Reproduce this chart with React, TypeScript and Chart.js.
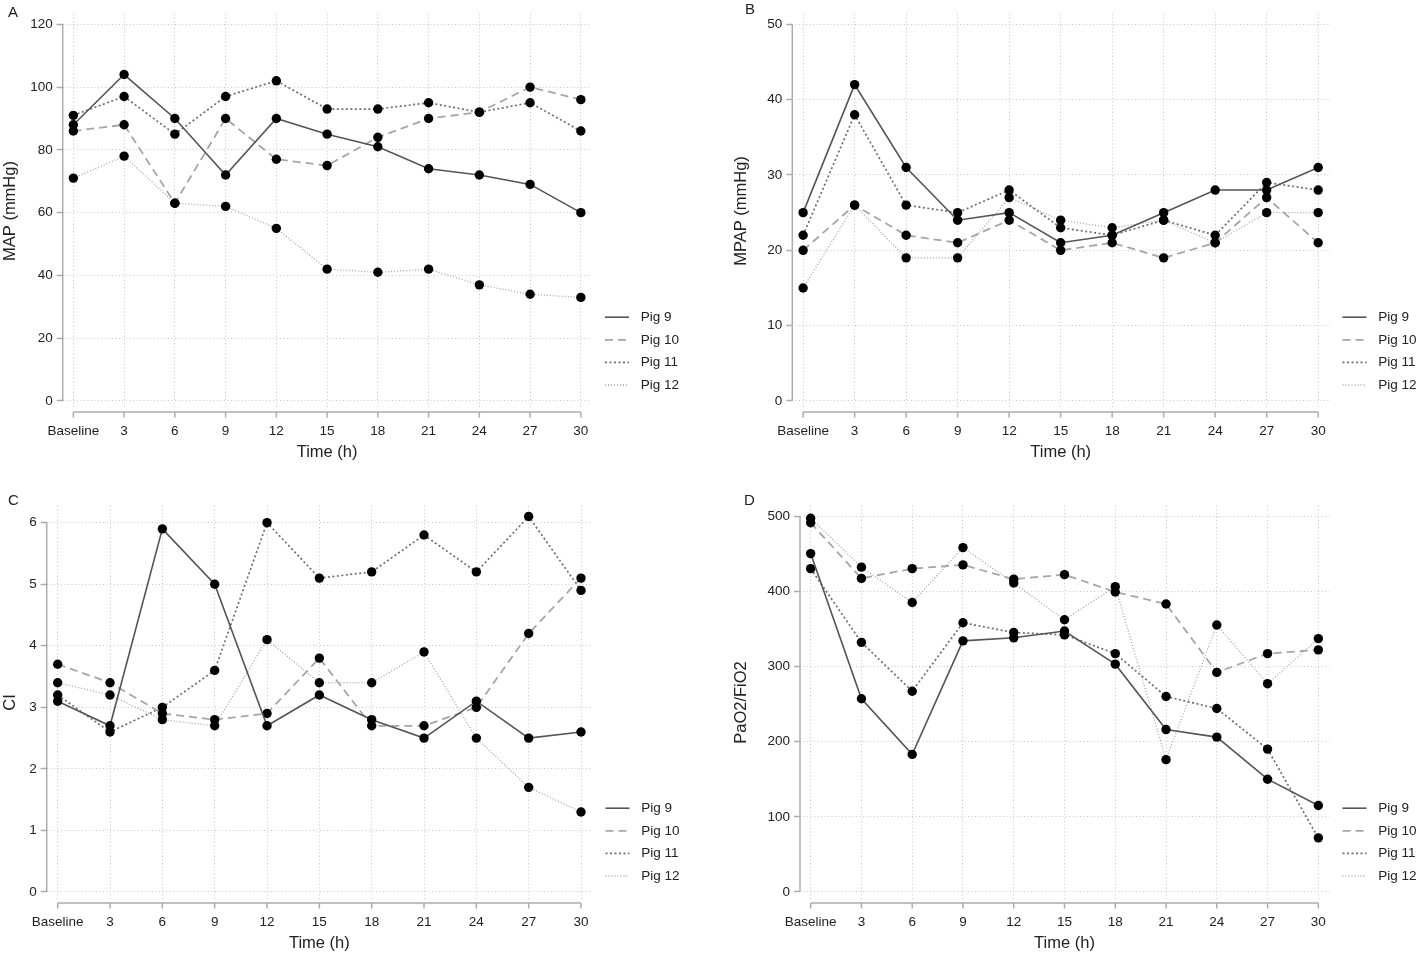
import React, { useEffect, useRef } from "react";
import { Chart, registerables } from "chart.js";

Chart.register(...registerables);

// ---------- data ----------
const timeLabels = ["Baseline", "3", "6", "9", "12", "15", "18", "21", "24", "27", "30"];
const pigNames = ["Pig 9", "Pig 10", "Pig 11", "Pig 12"];

const mapPig9 = [88, 104, 90, 72, 90, 85, 81, 74, 72, 69, 60];
const mapPig10 = [86, 88, 63, 90, 77, 75, 84, 90, 92, 100, 96];
const mapPig11 = [91, 97, 85, 97, 102, 93, 93, 95, 92, 95, 86];
const mapPig12 = [71, 78, 63, 62, 55, 42, 41, 42, 37, 34, 33];

const mpapPig9 = [25, 42, 31, 24, 25, 21, 22, 25, 28, 28, 31];
const mpapPig10 = [20, 26, 22, 21, 24, 20, 21, 19, 21, 27, 21];
const mpapPig11 = [22, 38, 26, 25, 28, 23, 22, 24, 22, 29, 28];
const mpapPig12 = [15, 26, 19, 19, 27, 24, 23, 24, 21, 25, 25];

const ciPig9 = [3.1, 2.7, 5.9, 5.0, 2.7, 3.2, 2.8, 2.5, 3.1, 2.5, 2.6];
const ciPig10 = [3.7, 3.4, 2.9, 2.8, 2.9, 3.8, 2.7, 2.7, 3.0, 4.2, 5.1];
const ciPig11 = [3.2, 2.6, 3.0, 3.6, 6.0, 5.1, 5.2, 5.8, 5.2, 6.1, 4.9];
const ciPig12 = [3.4, 3.2, 2.8, 2.7, 4.1, 3.4, 3.4, 3.9, 2.5, 1.7, 1.3];

const pfPig9 = [450, 257, 183, 334, 338, 347, 303, 216, 206, 150, 115];
const pfPig10 = [491, 417, 430, 435, 416, 422, 399, 383, 292, 317, 322];
const pfPig11 = [430, 332, 267, 358, 345, 342, 317, 260, 244, 190, 72];
const pfPig12 = [497, 432, 385, 458, 411, 362, 406, 176, 355, 277, 337];

const mapTicks = [0, 20, 40, 60, 80, 100, 120];
const mpapTicks = [0, 10, 20, 30, 40, 50];
const ciTicks = [0, 1, 2, 3, 4, 5, 6];
const pfTicks = [0, 100, 200, 300, 400, 500];

// ---------- styles ----------
const FONT = '"Liberation Sans", Arial, Helvetica, sans-serif';
const TEXT = "#222222";
const GRID = "#c8c8c8";
const AXIS = "#acacac";

const pigStyles = [
  { color: "#555555", width: 1.6, dash: [] as number[] },
  { color: "#a6a6a6", width: 1.8, dash: [8, 5] },
  { color: "#6e6e6e", width: 1.7, dash: [2, 2.5] },
  { color: "#a4a4a4", width: 1.3, dash: [1, 2] },
];

Chart.defaults.font.family = FONT;
Chart.defaults.color = TEXT;

type PanelCfg = {
  letter: string;
  left: number;
  top: number;
  w: number;
  h: number;
  area: { left: number; right: number; top: number; bottom: number };
  padL: number;
  yTitle: string;
  yMin: number;
  yMax: number;
  ticks: number[];
  series: number[][];
  letterPos: { x: number; y: number };
};

const panels: PanelCfg[] = [
  {
    letter: "A",
    left: 0, top: 0, w: 708, h: 477,
    area: { left: 62.7, right: 591.5, top: 14, bottom: 408 },
    padL: 0,
    yTitle: "MAP (mmHg)",
    yMin: -2.23, yMax: 123.28,
    ticks: mapTicks,
    series: [mapPig9, mapPig10, mapPig11, mapPig12],
    letterPos: { x: 8, y: 12 },
  },
  {
    letter: "B",
    left: 708, top: 0, w: 708, h: 477,
    area: { left: 84.3, right: 621, top: 14, bottom: 408 },
    padL: 23,
    yTitle: "MPAP (mmHg)",
    yMin: -0.93, yMax: 51.37,
    ticks: mpapTicks,
    series: [mpapPig9, mpapPig10, mpapPig11, mpapPig12],
    letterPos: { x: 745, y: 9 },
  },
  {
    letter: "C",
    left: 0, top: 477, w: 708, h: 477,
    area: { left: 46.7, right: 592, top: 29, bottom: 422 },
    padL: 0,
    yTitle: "CI",
    yMin: -0.114, yMax: 6.271,
    ticks: ciTicks,
    series: [ciPig9, ciPig10, ciPig11, ciPig12],
    letterPos: { x: 8, y: 500 },
  },
  {
    letter: "D",
    left: 708, top: 477, w: 708, h: 477,
    area: { left: 92, right: 621, top: 29, bottom: 422 },
    padL: 23,
    yTitle: "PaO2/FiO2",
    yMin: -9.31, yMax: 513.3,
    ticks: pfTicks,
    series: [pfPig9, pfPig10, pfPig11, pfPig12],
    letterPos: { x: 744, y: 500 },
  },
];

// R-style axis lines + legend
const rStylePlugin = {
  id: "rStyle",
  afterDraw(chart: any) {
    const { ctx, chartArea } = chart;
    const xs = chart.scales.x;
    const ys = chart.scales.y;
    ctx.save();
    ctx.strokeStyle = AXIS;
    ctx.lineWidth = 1.5;
    ctx.setLineDash([]);
    const yBot = ys.getPixelForValue(ys.ticks[0].value);
    const yTop = ys.getPixelForValue(ys.ticks[ys.ticks.length - 1].value);
    ctx.beginPath();
    ctx.moveTo(chartArea.left, yBot);
    ctx.lineTo(chartArea.left, yTop);
    ctx.stroke();
    const axisY = chartArea.bottom + 4;
    const xFirst = xs.getPixelForValue(xs.ticks[0].value);
    const xLast = xs.getPixelForValue(xs.ticks[xs.ticks.length - 1].value);
    ctx.beginPath();
    ctx.moveTo(xFirst, axisY);
    ctx.lineTo(xLast, axisY);
    for (const t of xs.ticks) {
      const px = xs.getPixelForValue(t.value);
      ctx.moveTo(px, axisY);
      ctx.lineTo(px, axisY + 5.5);
    }
    ctx.stroke();

    const ds = chart.data.datasets;
    const lx = chartArea.right + 13.5;
    ds.forEach((d: any, i: number) => {
      const y = chartArea.bottom - 23 - (ds.length - 1 - i) * 22.6;
      ctx.strokeStyle = d.borderColor;
      ctx.lineWidth = d.borderWidth;
      ctx.setLineDash(d.borderDash || []);
      ctx.beginPath();
      ctx.moveTo(lx, y);
      ctx.lineTo(lx + 24, y);
      ctx.stroke();
      ctx.setLineDash([]);
      ctx.fillStyle = TEXT;
      ctx.font = `13.5px ${FONT}`;
      ctx.textBaseline = "middle";
      ctx.textAlign = "left";
      ctx.fillText(d.label, lx + 35.7, y);
    });
    ctx.restore();
  },
};

function Panel({ cfg }: { cfg: PanelCfg }) {
  const ref = useRef<HTMLCanvasElement>(null);
  useEffect(() => {
    const canvas = ref.current!;
    const p = cfg;
    const chart = new Chart(canvas, {
      type: "line",
      data: {
        datasets: p.series.map((vals, k) => ({
          label: pigNames[k],
          data: vals.map((v, i) => ({ x: i, y: v })),
          borderColor: pigStyles[k].color,
          borderWidth: pigStyles[k].width,
          borderDash: pigStyles[k].dash,
          pointRadius: 4.7,
          pointBackgroundColor: "#000000",
          pointBorderColor: "#000000",
          pointBorderWidth: 0,
          tension: 0,
          fill: false,
        })),
      },
      options: {
        responsive: false,
        animation: false,
        devicePixelRatio: 1,
        events: [],
        layout: {
          padding: { top: p.area.top, right: p.w - p.area.right, left: p.padL, bottom: 0 },
        },
        plugins: {
          legend: { display: false },
          tooltip: { enabled: false },
          title: { display: false },
        },
        scales: {
          x: {
            type: "linear",
            min: -0.21,
            max: 10.21,
            afterBuildTicks: (s: any) => {
              s.ticks = timeLabels.map((_, i) => ({ value: i }));
            },
            afterFit: (s: any) => {
              s.height = p.h - p.area.bottom;
            },
            ticks: {
              callback: (v: any) => timeLabels[Math.round(Number(v))],
              autoSkip: false,
              maxRotation: 0,
              minRotation: 0,
              padding: 14.9,
              font: { size: 13.5, family: FONT },
              color: TEXT,
            },
            grid: { color: GRID, lineWidth: 1, drawTicks: false },
            border: { display: false, dash: [1, 2.5] },
            title: {
              display: true,
              text: "Time (h)",
              font: { size: 16.5, family: FONT },
              color: TEXT,
              padding: { top: 0, bottom: p.h - p.area.bottom - 44 - 9.9 },
            },
          },
          y: {
            type: "linear",
            min: p.yMin,
            max: p.yMax,
            afterBuildTicks: (s: any) => {
              s.ticks = p.ticks.map((v) => ({ value: v }));
            },
            afterFit: (s: any) => {
              s.width = p.area.left - p.padL;
            },
            ticks: {
              callback: (v: any) => String(v),
              padding: 4,
              font: { size: 13.5, family: FONT },
              color: TEXT,
            },
            grid: {
              color: GRID,
              lineWidth: 1,
              drawTicks: true,
              tickLength: 6,
              tickColor: AXIS,
              tickWidth: 1.5,
              tickBorderDash: [],
            },
            border: { display: false, dash: [1, 2.5] },
            title: {
              display: true,
              text: p.yTitle,
              font: { size: 16.5, family: FONT },
              color: TEXT,
              padding: { top: 0.2, bottom: 0 },
            },
          },
        },
      } as any,
      plugins: [rStylePlugin],
    });
    return () => chart.destroy();
  }, [cfg]);
  return (
    <canvas
      ref={ref}
      width={cfg.w}
      height={cfg.h}
      style={{ position: "absolute", left: cfg.left, top: cfg.top, width: cfg.w, height: cfg.h }}
    />
  );
}

export default function App() {
  return (
    <div
      style={{
        position: "absolute",
        left: 0,
        top: 0,
        width: 1416,
        height: 954,
        background: "#ffffff",
        overflow: "hidden",
      }}
    >
      {panels.map((p) => (
        <Panel key={p.letter} cfg={p} />
      ))}
      {panels.map((p) => (
        <div
          key={"L" + p.letter}
          style={{
            position: "absolute",
            left: p.letterPos.x,
            top: p.letterPos.y - 8,
            height: 16,
            lineHeight: "16px",
            fontFamily: FONT,
            fontSize: 15,
            color: TEXT,
          }}
        >
          {p.letter}
        </div>
      ))}
    </div>
  );
}
